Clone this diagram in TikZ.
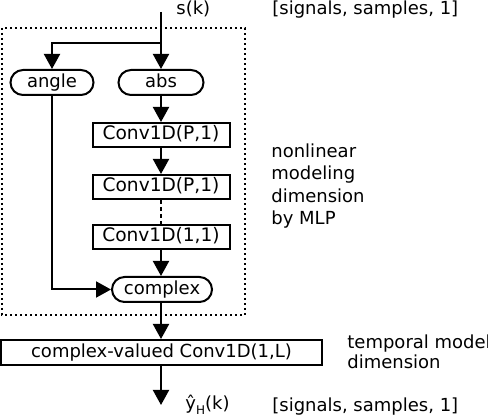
\documentclass[tikz,border=0pt]{standalone}
\usepackage{fontspec}
\setmainfont{DejaVu Sans}
\usetikzlibrary{arrows.meta,shapes.misc}
\begin{document}
\begin{tikzpicture}[x=0.5pt,y=-0.5pt,
  font=\fontsize{9}{11}\selectfont,
  pill/.style={draw,line width=1pt,rounded rectangle,inner sep=0pt,minimum height=12.5pt,text height=6.6pt,text depth=1.8pt},
  blk/.style={draw,line width=1pt,rectangle,inner sep=0pt,minimum height=12pt,text height=6.6pt,text depth=1.8pt,font=\fontsize{9.3}{11}\selectfont},
  conn/.style={line width=1pt,-{Triangle[length=7.5pt,width=8pt]}},
  lbl/.style={inner sep=0pt,anchor=west}]
\useasboundingbox (0,0) rectangle (488,416);
% dotted frame
\draw[line width=0.6pt,dash pattern=on 1pt off 1.5pt] (2,28) rectangle (245,315);
% nodes
\coordinate (top) at (161,12);
\coordinate (br) at (161,43);
\node[pill,minimum width=41.5pt] (angle) at (52,82.5) {angle};
\node[pill,minimum width=42.5pt] (abs) at (161,82.5) {abs};
\node[blk,minimum width=68.5pt] (c1) at (161,135) {Conv1D(P,1)};
\node[blk,minimum width=68.5pt] (c2) at (161,187) {Conv1D(P,1)};
\node[blk,minimum width=68.5pt] (c3) at (161,237) {Conv1D(1,1)};
\node[pill,minimum width=50pt] (cx) at (162,289.5) {complex};
\node[blk,minimum width=160.5pt,minimum height=12.5pt,font=\fontsize{9}{11}\selectfont] (big) at (161.5,352.5) {complex-valued Conv1D(1,L)};
\coordinate (out) at (161,405);
% connectors
\draw[conn] (top) -- (abs.north -| top);
\draw[conn] (br) -| (angle.north);
\draw[conn] (abs.south -| top) -- (c1.north -| top);
\draw[conn] (c1.south -| top) -- (c2.north -| top);
\draw[line width=1pt,dash pattern=on 2pt off 1.5pt] (c2.south -| top) -- (c3.north -| top);
\draw[conn] (c3.south -| top) -- (cx.north -| top);
\draw[conn] (angle.south) |- (cx.west);
\draw[conn] (cx.south -| top) -- (big.north -| top);
\draw[conn] (big.south -| top) -- (out);
% labels
\node[lbl] (sk) at (176,9) {s(k)};
\node[lbl] (sig1) at (272,10) {[signals, samples, 1]};
\node[lbl,align=left,font=\fontsize{9}{11.3}\selectfont] (nl) at (271,186) {nonlinear\\modeling\\dimension\\by MLP};
\node[lbl,align=left,font=\fontsize{9}{10}\selectfont] (tm) at (347,352) {temporal model\\dimension};
\node[lbl] (yh) at (185,405) {ŷ\raisebox{-2.5pt}{\fontsize{6}{6}\selectfont H}(k)};
\node[lbl] (sig2) at (272,407) {[signals, samples, 1]};
\end{tikzpicture}
\end{document}
